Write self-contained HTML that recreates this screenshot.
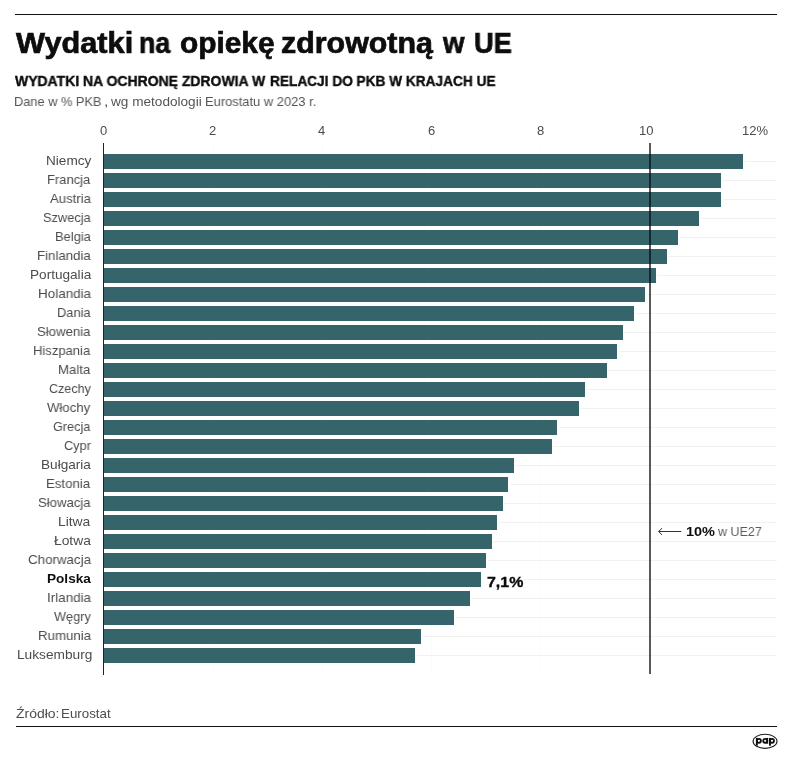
<!DOCTYPE html>
<html lang="pl"><head><meta charset="utf-8"><title>Wydatki na opiekę zdrowotną w UE</title>
<style>
html,body{margin:0;padding:0;background:#fff;}
body{width:792px;height:764px;position:relative;overflow:hidden;font-family:"Liberation Sans",sans-serif;color:#111;}
.abs{position:absolute;white-space:nowrap;will-change:transform;}
.rule{position:absolute;left:15px;width:762px;background:#111;}
.bar{position:absolute;left:104px;height:15.0px;background:#35656b;}
.hg{position:absolute;height:1px;background:#f1f1f1;}
.vg{position:absolute;width:1px;top:144px;height:530px;background:#fbfbfb;}
</style></head><body>

<div class="rule" style="left:14.6px;width:762.6px;top:13.7px;height:1.4px"></div>
<div class="abs" style="left:15.60px;top:27.00px;font-size:29.00px;line-height:32.00px;font-weight:bold;color:#0d0d0d;transform-origin:0 0;transform:scaleX(1.0589);-webkit-text-stroke:0.7px #0d0d0d;">Wydatki</div>
<div class="abs" style="left:139.06px;top:27.00px;font-size:29.00px;line-height:32.00px;font-weight:bold;color:#0d0d0d;transform-origin:0 0;transform:scaleX(0.9226);-webkit-text-stroke:0.7px #0d0d0d;">na</div>
<div class="abs" style="left:180.11px;top:27.00px;font-size:29.00px;line-height:32.00px;font-weight:bold;color:#0d0d0d;transform-origin:0 0;transform:scaleX(1.0289);-webkit-text-stroke:0.7px #0d0d0d;">opiekę</div>
<div class="abs" style="left:280.88px;top:27.00px;font-size:29.00px;line-height:32.00px;font-weight:bold;color:#0d0d0d;transform-origin:0 0;transform:scaleX(1.0477);-webkit-text-stroke:0.7px #0d0d0d;">zdrowotną</div>
<div class="abs" style="left:442.90px;top:27.00px;font-size:29.00px;line-height:32.00px;font-weight:bold;color:#0d0d0d;transform-origin:0 0;transform:scaleX(0.9505);-webkit-text-stroke:0.7px #0d0d0d;">w</div>
<div class="abs" style="left:473.57px;top:27.00px;font-size:29.00px;line-height:32.00px;font-weight:bold;color:#0d0d0d;transform-origin:0 0;transform:scaleX(0.9383);-webkit-text-stroke:0.7px #0d0d0d;">UE</div>
<div class="abs" style="left:15.10px;top:73.00px;font-size:14.20px;line-height:16.00px;font-weight:bold;color:#0d0d0d;transform-origin:0 0;transform:scaleX(0.9847);-webkit-text-stroke:0.4px #0d0d0d;">WYDATKI NA OCHRONĘ ZDROWIA W</div>
<div class="abs" style="left:269.51px;top:73.00px;font-size:14.20px;line-height:16.00px;font-weight:bold;color:#0d0d0d;transform-origin:0 0;transform:scaleX(0.9632);-webkit-text-stroke:0.4px #0d0d0d;">RELACJI DO PKB W KRAJACH UE</div>
<div class="abs" style="left:14.18px;top:94.00px;font-size:13.20px;line-height:15.00px;color:#555;transform-origin:0 0;transform:scaleX(0.9706);">Dane w % PKB</div>
<div class="abs" style="left:103.76px;top:94.00px;font-size:13.20px;line-height:15.00px;color:#555;transform-origin:0 0;transform:scaleX(1.2121);">,</div>
<div class="abs" style="left:111.30px;top:94.00px;font-size:13.20px;line-height:15.00px;color:#555;transform-origin:0 0;transform:scaleX(1.0311);">wg metodologii</div>
<div class="abs" style="left:205.17px;top:94.00px;font-size:13.20px;line-height:15.00px;color:#555;transform-origin:0 0;transform:scaleX(0.9796);">Eurostatu w 2023 r.</div>
<div class="abs" style="left:99.69px;top:123.00px;font-size:13.00px;line-height:15.00px;color:#4c4c4c;transform-origin:0 0;transform:scaleX(1.0000);">0</div>
<div class="abs" style="left:209.19px;top:123.00px;font-size:13.00px;line-height:15.00px;color:#4c4c4c;transform-origin:0 0;transform:scaleX(1.0000);">2</div>
<div class="abs" style="left:318.43px;top:123.00px;font-size:13.00px;line-height:15.00px;color:#4c4c4c;transform-origin:0 0;transform:scaleX(1.0000);">4</div>
<div class="abs" style="left:427.66px;top:123.00px;font-size:13.00px;line-height:15.00px;color:#4c4c4c;transform-origin:0 0;transform:scaleX(1.0000);">6</div>
<div class="abs" style="left:537.36px;top:123.00px;font-size:13.00px;line-height:15.00px;color:#4c4c4c;transform-origin:0 0;transform:scaleX(1.0000);">8</div>
<div class="abs" style="left:639.36px;top:123.00px;font-size:13.00px;line-height:15.00px;color:#4c4c4c;transform-origin:0 0;transform:scaleX(1.0000);">10</div>
<div class="abs" style="left:742.24px;top:123.00px;font-size:13.00px;line-height:15.00px;color:#4c4c4c;transform-origin:0 0;transform:scaleX(1.0000);">12%</div>
<div class="vg" style="left:212.5px"></div>
<div class="vg" style="left:321.8px"></div>
<div class="vg" style="left:431.1px"></div>
<div class="vg" style="left:540.4px"></div>
<div class="hg" style="left:744.6px;top:161.3px;width:31.9px"></div>
<div class="bar" style="top:154.3px;width:639.1px"></div>
<div class="abs" style="left:45.52px;top:153.00px;font-size:13.60px;line-height:15.00px;color:#4c4c4c;transform-origin:0 0;transform:scaleX(0.9955);">Niemcy</div>
<div class="hg" style="left:722.7px;top:180.3px;width:53.8px"></div>
<div class="bar" style="top:173.3px;width:617.2px"></div>
<div class="abs" style="left:47.36px;top:172.00px;font-size:13.60px;line-height:15.00px;color:#4c4c4c;transform-origin:0 0;transform:scaleX(0.9533);">Francja</div>
<div class="hg" style="left:722.7px;top:199.3px;width:53.8px"></div>
<div class="bar" style="top:192.3px;width:617.2px"></div>
<div class="abs" style="left:49.73px;top:191.00px;font-size:13.60px;line-height:15.00px;color:#4c4c4c;transform-origin:0 0;transform:scaleX(0.9662);">Austria</div>
<div class="hg" style="left:700.9px;top:218.3px;width:75.6px"></div>
<div class="bar" style="top:211.3px;width:595.4px"></div>
<div class="abs" style="left:42.82px;top:210.00px;font-size:13.60px;line-height:15.00px;color:#4c4c4c;transform-origin:0 0;transform:scaleX(0.9431);">Szwecja</div>
<div class="hg" style="left:679.0px;top:237.3px;width:97.5px"></div>
<div class="bar" style="top:230.3px;width:573.5px"></div>
<div class="abs" style="left:54.77px;top:229.00px;font-size:13.60px;line-height:15.00px;color:#4c4c4c;transform-origin:0 0;transform:scaleX(0.9477);">Belgia</div>
<div class="hg" style="left:668.1px;top:256.3px;width:108.4px"></div>
<div class="bar" style="top:249.3px;width:562.6px"></div>
<div class="abs" style="left:36.84px;top:248.00px;font-size:13.60px;line-height:15.00px;color:#4c4c4c;transform-origin:0 0;transform:scaleX(0.9748);">Finlandia</div>
<div class="hg" style="left:657.2px;top:275.3px;width:119.3px"></div>
<div class="bar" style="top:268.3px;width:551.7px"></div>
<div class="abs" style="left:29.72px;top:267.00px;font-size:13.60px;line-height:15.00px;color:#4c4c4c;transform-origin:0 0;transform:scaleX(0.9948);">Portugalia</div>
<div class="hg" style="left:646.2px;top:294.3px;width:130.3px"></div>
<div class="bar" style="top:287.3px;width:540.7px"></div>
<div class="abs" style="left:37.52px;top:286.00px;font-size:13.60px;line-height:15.00px;color:#4c4c4c;transform-origin:0 0;transform:scaleX(0.9893);">Holandia</div>
<div class="hg" style="left:635.3px;top:313.3px;width:141.2px"></div>
<div class="bar" style="top:306.3px;width:529.8px"></div>
<div class="abs" style="left:57.07px;top:305.00px;font-size:13.60px;line-height:15.00px;color:#4c4c4c;transform-origin:0 0;transform:scaleX(0.9445);">Dania</div>
<div class="hg" style="left:624.4px;top:332.3px;width:152.1px"></div>
<div class="bar" style="top:325.3px;width:518.9px"></div>
<div class="abs" style="left:37.11px;top:324.00px;font-size:13.60px;line-height:15.00px;color:#4c4c4c;transform-origin:0 0;transform:scaleX(0.9700);">Słowenia</div>
<div class="hg" style="left:618.9px;top:351.3px;width:157.6px"></div>
<div class="bar" style="top:344.3px;width:513.4px"></div>
<div class="abs" style="left:33.46px;top:343.00px;font-size:13.60px;line-height:15.00px;color:#4c4c4c;transform-origin:0 0;transform:scaleX(0.9571);">Hiszpania</div>
<div class="hg" style="left:608.0px;top:370.3px;width:168.5px"></div>
<div class="bar" style="top:363.3px;width:502.5px"></div>
<div class="abs" style="left:58.34px;top:362.00px;font-size:13.60px;line-height:15.00px;color:#4c4c4c;transform-origin:0 0;transform:scaleX(0.9700);">Malta</div>
<div class="hg" style="left:586.1px;top:389.3px;width:190.4px"></div>
<div class="bar" style="top:382.3px;width:480.6px"></div>
<div class="abs" style="left:48.77px;top:381.00px;font-size:13.60px;line-height:15.00px;color:#4c4c4c;transform-origin:0 0;transform:scaleX(0.9236);">Czechy</div>
<div class="hg" style="left:580.7px;top:408.3px;width:195.8px"></div>
<div class="bar" style="top:401.3px;width:475.2px"></div>
<div class="abs" style="left:47.43px;top:400.00px;font-size:13.60px;line-height:15.00px;color:#4c4c4c;transform-origin:0 0;transform:scaleX(0.9691);">Włochy</div>
<div class="hg" style="left:558.8px;top:427.3px;width:217.7px"></div>
<div class="bar" style="top:420.3px;width:453.3px"></div>
<div class="abs" style="left:53.27px;top:419.00px;font-size:13.60px;line-height:15.00px;color:#4c4c4c;transform-origin:0 0;transform:scaleX(0.9321);">Grecja</div>
<div class="hg" style="left:553.3px;top:446.3px;width:223.2px"></div>
<div class="bar" style="top:439.3px;width:447.8px"></div>
<div class="abs" style="left:63.86px;top:438.00px;font-size:13.60px;line-height:15.00px;color:#4c4c4c;transform-origin:0 0;transform:scaleX(0.9384);">Cypr</div>
<div class="hg" style="left:515.1px;top:465.3px;width:261.4px"></div>
<div class="bar" style="top:458.3px;width:409.6px"></div>
<div class="abs" style="left:40.71px;top:457.00px;font-size:13.60px;line-height:15.00px;color:#4c4c4c;transform-origin:0 0;transform:scaleX(0.9995);">Bułgaria</div>
<div class="hg" style="left:509.6px;top:484.3px;width:266.9px"></div>
<div class="bar" style="top:477.3px;width:404.1px"></div>
<div class="abs" style="left:46.44px;top:476.00px;font-size:13.60px;line-height:15.00px;color:#4c4c4c;transform-origin:0 0;transform:scaleX(0.9736);">Estonia</div>
<div class="hg" style="left:504.1px;top:503.3px;width:272.4px"></div>
<div class="bar" style="top:496.3px;width:398.6px"></div>
<div class="abs" style="left:38.01px;top:495.00px;font-size:13.60px;line-height:15.00px;color:#4c4c4c;transform-origin:0 0;transform:scaleX(0.9668);">Słowacja</div>
<div class="hg" style="left:498.7px;top:522.3px;width:277.8px"></div>
<div class="bar" style="top:515.3px;width:393.2px"></div>
<div class="abs" style="left:58.29px;top:514.00px;font-size:13.60px;line-height:15.00px;color:#4c4c4c;transform-origin:0 0;transform:scaleX(1.0173);">Litwa</div>
<div class="hg" style="left:493.2px;top:541.3px;width:283.3px"></div>
<div class="bar" style="top:534.3px;width:387.7px"></div>
<div class="abs" style="left:53.76px;top:533.00px;font-size:13.60px;line-height:15.00px;color:#4c4c4c;transform-origin:0 0;transform:scaleX(1.0164);">Łotwa</div>
<div class="hg" style="left:487.8px;top:560.3px;width:288.8px"></div>
<div class="bar" style="top:553.3px;width:382.2px"></div>
<div class="abs" style="left:27.63px;top:552.00px;font-size:13.60px;line-height:15.00px;color:#4c4c4c;transform-origin:0 0;transform:scaleX(0.9799);">Chorwacja</div>
<div class="hg" style="left:524.0px;top:579.3px;width:252.5px"></div>
<div class="bar" style="top:572.3px;width:376.8px"></div>
<div class="abs" style="left:46.92px;top:571.00px;font-size:13.60px;line-height:15.00px;font-weight:bold;color:#0d0d0d;transform-origin:0 0;transform:scaleX(0.9928);">Polska</div>
<div class="hg" style="left:471.4px;top:598.3px;width:305.1px"></div>
<div class="bar" style="top:591.3px;width:365.9px"></div>
<div class="abs" style="left:46.59px;top:590.00px;font-size:13.60px;line-height:15.00px;color:#4c4c4c;transform-origin:0 0;transform:scaleX(0.9865);">Irlandia</div>
<div class="hg" style="left:455.0px;top:617.3px;width:321.5px"></div>
<div class="bar" style="top:610.3px;width:349.5px"></div>
<div class="abs" style="left:53.84px;top:609.00px;font-size:13.60px;line-height:15.00px;color:#4c4c4c;transform-origin:0 0;transform:scaleX(0.9370);">Węgry</div>
<div class="hg" style="left:422.2px;top:636.3px;width:354.3px"></div>
<div class="bar" style="top:629.3px;width:316.7px"></div>
<div class="abs" style="left:37.54px;top:628.00px;font-size:13.60px;line-height:15.00px;color:#4c4c4c;transform-origin:0 0;transform:scaleX(0.9754);">Rumunia</div>
<div class="hg" style="left:416.7px;top:655.3px;width:359.8px"></div>
<div class="bar" style="top:648.3px;width:311.2px"></div>
<div class="abs" style="left:16.50px;top:647.00px;font-size:13.60px;line-height:15.00px;color:#4c4c4c;transform-origin:0 0;transform:scaleX(1.0079);">Luksemburg</div>
<div style="position:absolute;left:103.1px;top:143.4px;width:1.4px;height:531.2px;background:#222"></div>
<div style="position:absolute;left:649.25px;top:143.2px;width:2px;height:530.5px;background:rgba(10,10,10,0.68)"></div>
<div class="abs" style="left:486.68px;top:573.00px;font-size:15.40px;line-height:17.00px;font-weight:bold;color:#0d0d0d;transform-origin:0 0;transform:scaleX(1.0343);-webkit-text-stroke:0.35px #0d0d0d;">7,1%</div>
<svg class="abs" style="left:656px;top:525px" width="28" height="14" viewBox="0 0 28 14"><path d="M2.6 6.5 H25.3 M6.0 3.2 L2.6 6.5 L6.0 9.8" fill="none" stroke="#333" stroke-width="1"/></svg>
<div class="abs" style="left:685.66px;top:524.00px;font-size:13.60px;line-height:15.00px;font-weight:bold;color:#0d0d0d;transform-origin:0 0;transform:scaleX(1.0664);">10%</div>
<div class="abs" style="left:718.20px;top:524.00px;font-size:13.30px;line-height:15.00px;color:#5c5c5c;transform-origin:0 0;transform:scaleX(0.9393);">w UE27</div>
<div class="abs" style="left:15.58px;top:706.00px;font-size:13.10px;line-height:15.00px;color:#4c4c4c;transform-origin:0 0;transform:scaleX(1.0646);">Źródło:</div>
<div class="abs" style="left:61.23px;top:706.00px;font-size:13.10px;line-height:15.00px;color:#4c4c4c;transform-origin:0 0;transform:scaleX(1.0185);">Eurostat</div>
<div class="rule" style="left:15.9px;width:761.2px;top:725.8px;height:1.4px"></div>
<svg class="abs" style="left:750px;top:731px" width="30" height="20" viewBox="0 0 30 20"><ellipse cx="15.05" cy="10.35" rx="12" ry="7.05" fill="#fff" stroke="#1a1a1a" stroke-width="1.1"/><g fill="none" stroke="#0d0d0d" stroke-width="1.8"><circle cx="8.9" cy="9.8" r="2"/><circle cx="15.2" cy="9.8" r="2"/><circle cx="22.0" cy="9.8" r="2"/></g><g fill="#0d0d0d"><rect x="5.9" y="6.9" width="1.9" height="7.8"/><rect x="16.3" y="6.9" width="1.9" height="5.8"/><rect x="19.0" y="6.9" width="1.9" height="7.8"/></g></svg>
</body></html>
